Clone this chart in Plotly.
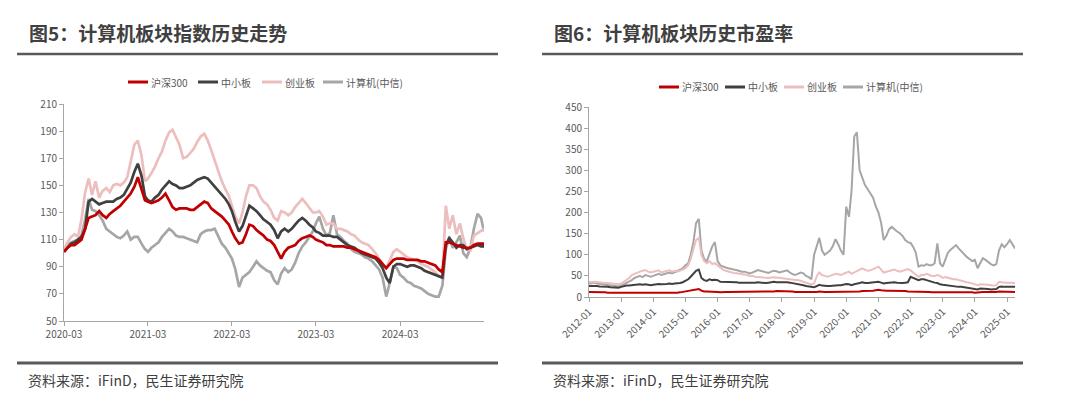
import pandas as pd
import plotly.graph_objects as go

# ---------------- data: left chart (index history, twice a month) ----------------
_months = pd.date_range("2020-03-01", "2025-03-01", freq="MS")
left_dates = sorted(list(_months) + list(_months[:-1] + pd.Timedelta(days=15)))
left_hs300 = [101,104,106,106,108,110,118,126,127,128,
              131,128,126,129,131,133,135,138,141,144,
              149,156,147,139,138,137,138,139,141,144,
              139,134,132,133,133,133,132,132,134,136,
              138,137,133,131,129,127,124,121,116,111,
              107,108,114,121,120,117,115,113,110,109,
              106,101,96,101,104,105,106,109,111,112,
              113,112,110,109,108,106,106,105,105,105,
              105,104,104,103,102,101,100,99,98,97,
              95,92,89,92,95,96,96,96,95,95,
              95,95,94,94,93,92,91,88,86,108,
              108,107,106,105,104,104,104,106,107,107,
              107]
left_zxb = [101,104,107,108,110,112,118,138,140,138,
            136,137,138,138,138,140,141,143,147,152,
            160,166,157,142,139,138,141,143,147,150,
            153,151,150,148,148,149,150,152,154,155,
            156,155,152,149,146,143,140,136,131,123,
            116,120,128,135,133,131,128,125,123,121,
            117,111,116,118,116,118,121,124,126,124,
            121,119,116,115,113,113,113,112,112,110,
            108,106,105,104,102,100,99,98,97,96,
            93,89,82,78,90,92,92,91,90,91,
            91,90,89,87,86,85,84,83,82,106,
            111,108,104,106,106,103,104,105,106,105,
            105]
left_cyb = [103,108,112,114,112,125,145,155,143,153,
            141,146,148,145,150,151,150,152,156,168,
            180,183,172,153,155,159,164,170,175,183,
            189,191,186,180,170,171,174,177,182,186,
            188,183,176,168,160,153,147,142,135,127,
            122,130,142,150,150,148,142,138,136,132,
            126,124,131,130,128,130,134,137,140,137,
            133,130,130,131,127,121,122,122,118,118,
            117,116,114,113,110,108,107,106,103,100,
            96,92,89,95,101,103,101,99,97,96,
            95,94,92,91,90,88,86,83,82,135,
            118,128,114,122,111,103,102,113,115,117,
            118]
left_jsj = [102,106,108,109,110,113,125,140,132,131,
            128,124,118,116,114,112,111,113,116,110,
            112,112,107,103,101,104,106,108,112,115,
            118,116,113,112,112,111,110,109,108,114,
            116,117,117,118,112,107,104,100,96,88,
            75,82,84,86,90,94,91,89,87,86,
            80,77,85,89,86,88,93,100,105,108,
            112,116,122,127,118,113,115,128,114,112,
            109,107,103,101,100,99,97,96,94,91,
            88,82,68,78,90,89,84,82,79,78,
            76,75,74,72,70,69,68,68,76,103,
            112,104,108,113,100,97,104,118,129,126,
            116]
left_yticks = [50, 70, 90, 110, 130, 150, 170, 190, 210]
left_xticks = ["2020-03-01", "2021-03-01", "2022-03-01", "2023-03-01", "2024-03-01"]
left_xticklabels = ["2020-03", "2021-03", "2022-03", "2023-03", "2024-03"]

# ---------------- data: right chart (PE history, monthly) ----------------
right_dates = pd.date_range("2012-01-01", "2025-04-01", freq="MS")
right_hs300 = [12,12,12,12,11,11,11,10,10,10,10,10,
               10,10,10,10,10,9,9,9,9,9,9,9,
               9,9,9,9,9,9,9,9,9,10,11,12,
               13,14,15,17,18,19,15,13,13,13,13,13,
               12,11,12,12,12,12,12,12,12,12,12,12,
               12,12,13,13,13,13,13,13,13,13,14,14,
               14,14,13,13,13,12,12,12,12,11,11,11,
               11,12,13,12,12,12,12,12,12,12,12,12,
               13,13,12,12,13,13,14,14,14,14,15,16,
               17,16,15,15,15,15,14,14,14,14,14,13,
               13,13,12,12,12,12,12,12,11,11,11,11,
               11,12,12,12,12,12,12,12,12,12,11,11,
               10,11,11,12,12,12,11,11,12,13,13,13,
               12,12,12,12]
right_zxb = [26,26,27,26,25,25,24,24,23,23,22,22,
             24,26,27,27,28,29,30,30,29,30,29,28,
             29,30,31,30,30,31,32,31,32,32,33,35,
             38,42,48,55,62,65,45,40,38,42,40,41,
             40,36,36,36,35,35,35,35,34,34,34,33,
             33,34,34,35,34,34,33,34,35,36,35,35,
             36,35,35,34,33,32,30,29,28,26,25,23,
             23,26,29,27,26,26,26,27,28,28,28,29,
             31,30,28,30,31,33,35,33,33,34,34,35,
             36,34,32,33,34,35,35,34,33,33,34,35,
             48,45,42,40,42,42,40,38,35,34,33,30,
             29,28,27,27,26,25,24,24,23,23,22,21,
             20,18,20,20,19,19,18,18,19,24,25,24,
             24,25,25,24]
right_cyb = [36,35,36,35,34,34,33,33,32,31,30,30,
             32,36,40,45,52,55,58,60,62,64,60,58,
             60,62,63,58,60,62,63,60,62,60,62,65,
             68,75,90,110,135,140,100,85,80,85,78,80,
             75,68,65,62,60,58,57,56,55,55,54,52,
             50,50,48,48,47,46,45,45,46,47,46,45,
             45,44,43,42,41,40,40,38,36,34,32,30,
             32,50,58,52,50,48,50,52,55,54,52,55,
             58,60,55,58,62,65,68,65,62,63,66,70,
             72,65,58,60,62,63,65,62,60,62,65,66,
             63,58,52,48,52,52,55,52,50,50,52,50,
             45,47,45,43,42,42,40,38,36,35,34,32,
             30,28,30,30,29,29,28,27,28,36,35,34,
             34,34,33,33]
right_jsj = [32,33,34,32,31,30,29,28,27,27,26,25,
             27,30,33,36,40,45,48,50,47,52,50,48,
             50,53,55,52,54,56,58,56,60,62,65,68,
             75,80,100,130,175,185,110,90,85,100,120,130,
             85,75,72,70,68,66,65,64,62,60,60,58,
             56,58,60,64,62,60,58,57,60,62,61,58,
             60,62,63,58,54,52,55,58,56,50,47,42,
             100,120,140,110,100,105,110,120,137,125,110,100,
             214,190,250,380,390,300,280,265,255,245,235,215,
             200,175,135,145,160,166,160,155,151,145,135,130,
             128,118,105,72,75,74,78,75,75,80,127,80,
             72,90,105,112,118,123,115,108,100,95,90,85,
             88,68,80,92,88,82,78,75,78,110,125,118,
             125,135,125,115]
right_yticks = [0, 50, 100, 150, 200, 250, 300, 350, 400, 450]

series_names = ["沪深300", "中小板", "创业板", "计算机(中信)"]
colors = ["#C00000", "#404040", "#EDBEBE", "#A6A6A6"]

titles = ["图5：计算机板块指数历史走势", "图6：计算机板块历史市盈率"]
source_text = "资料来源：iFinD，民生证券研究院"

W, H = 1080, 397
FONT = "Noto Sans CJK SC, Noto Sans, sans-serif"
TXT = "#595959"


def px(x):
    return x / W


def py(y):
    return 1 - y / H


fig = go.Figure()

left_vals = [left_hs300, left_zxb, left_cyb, left_jsj]
right_vals = [right_hs300, right_zxb, right_cyb, right_jsj]
draw_order = [3, 2, 1, 0]  # gray at back, red on top
for i in draw_order:
    fig.add_trace(go.Scatter(x=left_dates, y=left_vals[i], mode="lines", name=series_names[i],
                             line=dict(color=colors[i], width=2.7), xaxis="x", yaxis="y",
                             showlegend=False))
for i in draw_order:
    fig.add_trace(go.Scatter(x=right_dates, y=right_vals[i], mode="lines", name=series_names[i],
                             line=dict(color=colors[i], width=2), xaxis="x2", yaxis="y2",
                             showlegend=False))

axis_common = dict(showgrid=False, zeroline=False, showline=True, linecolor="#A6A6A6",
                   linewidth=1, ticks="outside", tickcolor="#A6A6A6", ticklen=4,
                   automargin=False,
                   tickfont=dict(family=FONT, size=10, color=TXT))

fig.update_layout(
    template="none",
    width=W, height=H,
    margin=dict(l=0, r=0, t=0, b=0, pad=0, autoexpand=False),
    paper_bgcolor="white", plot_bgcolor="white",
    font=dict(family=FONT, color=TXT),
    showlegend=False,
    xaxis=dict(domain=[px(64), px(484)], type="date", range=["2020-03-01", "2025-03-01"],
               tickvals=left_xticks, ticktext=left_xticklabels, anchor="y", **axis_common),
    yaxis=dict(domain=[py(321), py(104)], range=[50, 210], tickvals=left_yticks,
               anchor="x", **axis_common),
    xaxis2=dict(domain=[px(589), px(1015)], type="date", range=["2012-01-01", "2025-04-01"],
                tick0="2012-01-01", dtick="M12", tickformat="%Y-%m", tickangle=-45,
                anchor="y2", **axis_common),
    yaxis2=dict(domain=[py(297), py(107)], range=[0, 450], tickvals=right_yticks,
                anchor="x2", **axis_common),
)

shapes = []
annotations = []
panels = [(17, 498, 28), (542, 1023, 553)]
for (x0, x1, tx), title in zip(panels, titles):
    shapes.append(dict(type="line", xref="paper", yref="paper", x0=px(x0), x1=px(x1),
                       y0=py(54), y1=py(54), line=dict(color="#595959", width=2.5)))
    shapes.append(dict(type="line", xref="paper", yref="paper", x0=px(x0), x1=px(x1),
                       y0=py(363), y1=py(363), line=dict(color="#595959", width=3)))
    annotations.append(dict(text="<b>" + title + "</b>", xref="paper", yref="paper",
                            x=px(tx), y=py(33), xanchor="left", yanchor="middle", borderpad=0,
                            showarrow=False, font=dict(family=FONT, size=19, color="#404040")))
    annotations.append(dict(text=source_text, xref="paper", yref="paper",
                            x=px(tx - 1), y=py(380), xanchor="left", yanchor="middle", borderpad=0,
                            showarrow=False, font=dict(family=FONT, size=14, color="#404040")))

# hand-built legends (line sample + label) for each panel
legend_rows = [
    (82, [128, 198, 262, 323]),
    (87, [659, 725, 784, 843]),
]
for ly, starts in legend_rows:
    for i, sx in enumerate(starts):
        shapes.append(dict(type="line", xref="paper", yref="paper", x0=px(sx), x1=px(sx + 20),
                           y0=py(ly), y1=py(ly), line=dict(color=colors[i], width=3)))
        annotations.append(dict(text=series_names[i], xref="paper", yref="paper",
                                x=px(sx + 22), y=py(ly), xanchor="left", yanchor="middle",
                                borderpad=0, showarrow=False,
                                font=dict(family=FONT, size=10, color=TXT)))
fig.update_layout(shapes=shapes, annotations=annotations)

fig.write_html("out.html", config={"displayModeBar": False},
               post_script="document.body.style.margin='0px';")
